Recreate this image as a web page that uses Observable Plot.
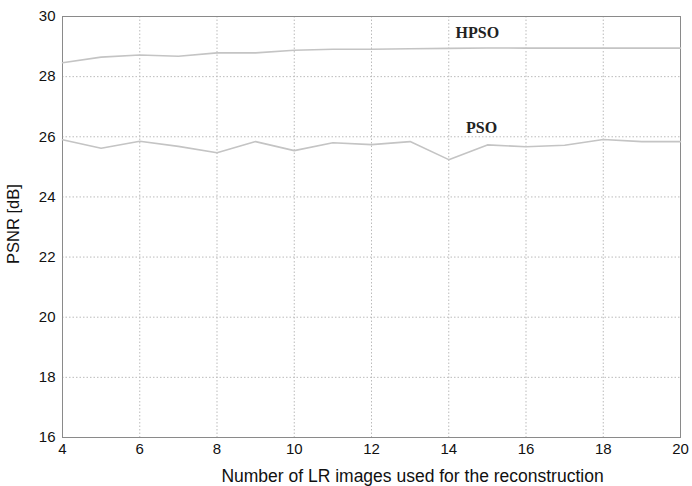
<!DOCTYPE html>
<html><head><meta charset="utf-8">
<script src="https://cdn.jsdelivr.net/npm/d3@7"></script>
<script src="https://cdn.jsdelivr.net/npm/@observablehq/plot@0.6"></script>
<style>
body{margin:0;background:#fff;}
svg{font-family:"Liberation Sans",Arial,sans-serif;}
</style></head><body>
<div id="chart"></div>
<script>
const images = [4,5,6,7,8,9,10,11,12,13,14,15,16,17,18,19,20];
const hpso = [28.46,28.65,28.72,28.68,28.79,28.79,28.88,28.91,28.91,28.93,28.94,28.95,28.95,28.95,28.95,28.95,28.95];
const pso  = [25.90,25.62,25.85,25.68,25.47,25.84,25.54,25.80,25.74,25.84,25.24,25.73,25.67,25.72,25.91,25.84,25.84];
const xTicks = [4,6,8,10,12,14,16,18,20];
const yTicks = [16,18,20,22,24,26,28,30];
const labels = [{name:"HPSO", x:14.74, y:29.44},{name:"PSO", x:14.85, y:26.31}];

const data = [];
images.forEach((n,i)=>{data.push({s:"HPSO",n,v:hpso[i]});data.push({s:"PSO",n,v:pso[i]});});

const chart = Plot.plot({
  width:692, height:486,
  marginLeft:62, marginRight:12, marginTop:16, marginBottom:49,
  style:{fontSize:"15px", fontFamily:"'Liberation Sans',Arial,sans-serif", color:"#111", background:"#fff"},
  x:{domain:[4,20]},
  y:{domain:[16,30]},
  marks:[
    Plot.gridX(xTicks,{stroke:"#bbb", strokeOpacity:1, strokeDasharray:"1.5,2"}),
    Plot.gridY(yTicks,{stroke:"#bbb", strokeOpacity:1, strokeDasharray:"1.5,2"}),
    Plot.frame({stroke:"#8a8a8a"}),
    Plot.axisX(xTicks,{tickSize:0, tickPadding:6, fontSize:15, label:null}),
    Plot.axisY(yTicks,{tickSize:0, tickPadding:7, fontSize:15, label:null}),
    Plot.line(data,{x:"n", y:"v", z:"s", stroke:"#c4c4c4", strokeWidth:1.6}),
    Plot.text(labels,{x:"x", y:"y", text:"name", fontFamily:"'Liberation Serif','Times New Roman',serif", fontWeight:"bold", fontSize:16, fill:"#222"}),
    Plot.text(["Number of LR images used for the reconstruction"],{frameAnchor:"bottom", dx:41, dy:44, text:d=>d, fontSize:17.5, fill:"#111"}),
    Plot.text(["PSNR [dB]"],{frameAnchor:"left", textAnchor:"middle", dx:-49, dy:-3, rotate:-90, text:d=>d, fontSize:16.5, fill:"#111"})
  ]
});
document.getElementById("chart").appendChild(chart);
</script></body></html>
